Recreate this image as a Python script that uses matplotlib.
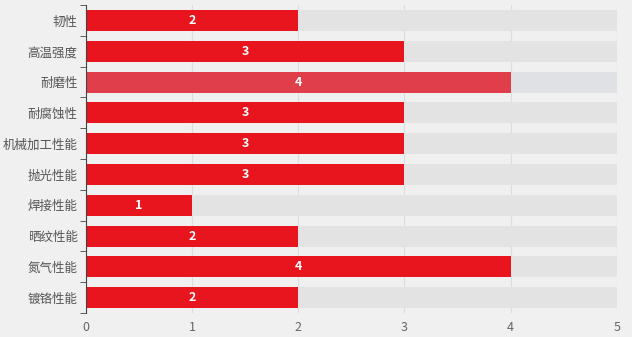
import matplotlib.pyplot as plt

plt.rcParams['font.family'] = ['Noto Sans CJK SC', 'DejaVu Sans']

# dane
categories = ['韧性', '高温强度', '耐磨性', '耐腐蚀性', '机械加工性能',
              '抛光性能', '焊接性能', '晒纹性能', '氮气性能', '镀铬性能']
values = [2, 3, 4, 3, 3, 3, 1, 2, 4, 2]
max_value = 5
highlight = '耐磨性'

fig = plt.figure(figsize=(6.32, 3.37), dpi=100, facecolor='#f0f0f0')
ax = fig.add_axes([0.136, 0.071, 0.840, 0.914])
ax.set_facecolor('#f0f0f0')

ypos = list(range(len(categories)))
bar_colors = ['#e03e4a' if c == highlight else '#e8141e' for c in categories]
bg_colors = ['#e0e1e5' if c == highlight else '#e3e3e3' for c in categories]

# tlo slupkow
ax.barh(ypos, [max_value] * len(categories), height=0.68, color=bg_colors, zorder=1)
bars = ax.barh(ypos, values, height=0.68, color=bar_colors, zorder=2)

# etykiety w srodku
for y, v in zip(ypos, values):
    ax.text(v / 2, y, str(v), ha='center', va='center', color='white',
            fontsize=9, fontweight='bold', zorder=3)

ax.set_xlim(0, max_value)
ax.set_ylim(len(categories) - 0.5, -0.5)
ax.set_yticks(ypos)
ax.set_yticklabels(categories, fontsize=9, color='#555555')
ax.set_yticks([i - 0.5 for i in range(len(categories) + 1)], minor=True)
ax.tick_params(axis='y', which='major', length=0, pad=6)
ax.tick_params(axis='y', which='minor', length=4, color='#444444', direction='out')
ax.set_xticks(range(0, max_value + 1))
ax.tick_params(axis='x', length=0, labelsize=9, labelcolor='#666666', pad=6)

ax.grid(axis='x', color='#dcdde2', linewidth=0.8, zorder=0)
ax.set_axisbelow(True)

for s in ['top', 'right', 'bottom']:
    ax.spines[s].set_visible(False)
ax.spines['left'].set_color('#444444')
ax.spines['left'].set_linewidth(0.8)

plt.savefig('out.png', dpi=100, facecolor=fig.get_facecolor())
plt.close()
